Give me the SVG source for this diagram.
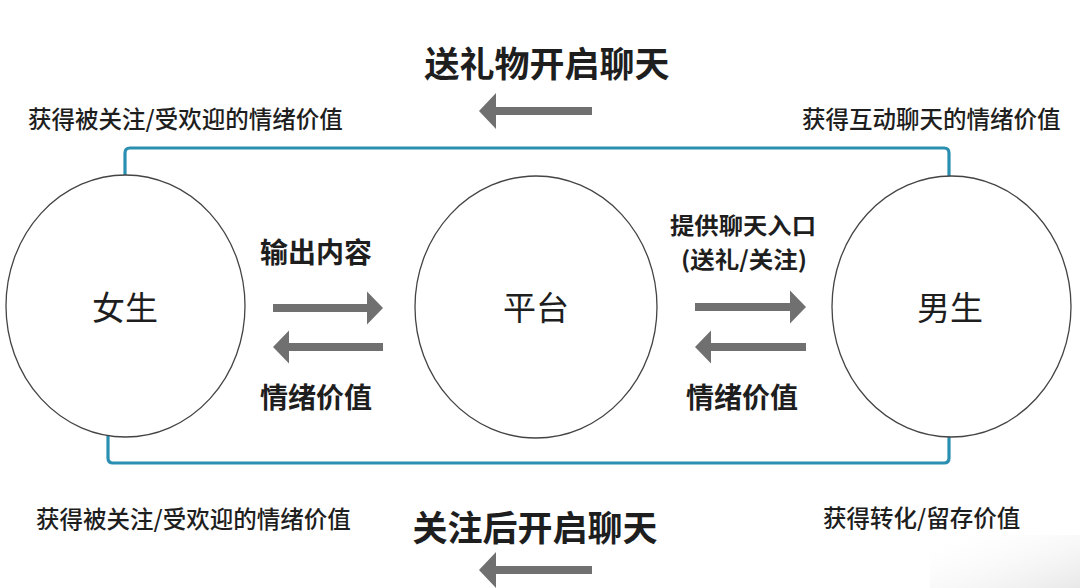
<svg xmlns="http://www.w3.org/2000/svg" width="1080" height="588" viewBox="0 0 1080 588">
  <defs>
    <style>
      .t { font-family: "Noto Sans CJK SC", "Noto Sans", sans-serif; fill: #1e1e1e; }
      .b { font-weight: 700; }
      .m { font-weight: 500; }
      .node { fill: #ffffff; stroke: #444444; stroke-width: 1.3; }
      .link { fill: none; stroke: #2b8fb2; stroke-width: 3.2; }
      .arr { fill: #707070; }
    </style>
    <linearGradient id="shade" x1="0" y1="0" x2="1" y2="1">
      <stop offset="0" stop-color="#ffffff" stop-opacity="0"/>
      <stop offset="1" stop-color="#e8e8e8" stop-opacity="1"/>
    </linearGradient>
  </defs>
  <rect width="1080" height="588" fill="#ffffff"/>
  <rect x="930" y="535" width="150" height="53" fill="url(#shade)"/>

  <g id="connectors">
    <path class="link" d="M125,176 V153 Q125,148 130,148 H944 Q949,148 949,153 V176"/>
    <path class="link" d="M108,436 V458 Q108,463 113,463 H944 Q949,463 949,458 V436"/>
    <polygon class="arr" points="273,304 367,304 367,291.5 383,308 367,324.5 367,312 273,312"/>
    <polygon class="arr" points="383,343 289,343 289,330.5 273,347 289,363.5 289,351 383,351"/>
    <polygon class="arr" points="695,303 790,303 790,290.5 806,307 790,323.5 790,311 695,311"/>
    <polygon class="arr" points="806,343 711,343 711,330.5 695,347 711,363.5 711,351 806,351"/>
    <polygon class="arr" points="592,107 496,107 496,93 479,111 496,129 496,115 592,115"/>
    <polygon class="arr" points="592,566 496,566 496,552 479,570 496,588 496,574 592,574"/>
  </g>

  <g id="node-female">
    <ellipse class="node" cx="125.5" cy="306" rx="119.5" ry="131"/>
    <text class="t" x="125" y="320" font-size="33" text-anchor="middle">女生</text>
  </g>
  <g id="node-platform">
    <ellipse class="node" cx="536" cy="307" rx="121" ry="131"/>
    <text class="t" x="536" y="320" font-size="33" text-anchor="middle">平台</text>
  </g>
  <g id="node-male">
    <ellipse class="node" cx="951.5" cy="306.5" rx="119.5" ry="130.5"/>
    <text class="t" x="950" y="320" font-size="33" text-anchor="middle">男生</text>
  </g>

  <g id="labels">
    <text class="t b" x="547" y="77" font-size="35" text-anchor="middle">送礼物开启聊天</text>
    <text class="t m" x="28" y="128" font-size="23.5">获得被关注/受欢迎的情绪价值</text>
    <text class="t m" x="802" y="128" font-size="23.5">获得互动聊天的情绪价值</text>
    <text class="t b" x="316" y="263" font-size="28" text-anchor="middle">输出内容</text>
    <text class="t b" x="316" y="408" font-size="28" text-anchor="middle">情绪价值</text>
    <text class="t b" x="743" y="234" font-size="23" text-anchor="middle" textLength="146" lengthAdjust="spacingAndGlyphs">提供聊天入口</text>
    <text class="t b" x="744" y="268" font-size="23" text-anchor="middle" textLength="126" lengthAdjust="spacingAndGlyphs">(送礼/关注)</text>
    <text class="t b" x="742" y="408" font-size="28" text-anchor="middle">情绪价值</text>
    <text class="t m" x="36" y="528" font-size="23.5">获得被关注/受欢迎的情绪价值</text>
    <text class="t b" x="535" y="541" font-size="35" text-anchor="middle">关注后开启聊天</text>
    <text class="t m" x="823" y="527" font-size="23.5">获得转化/留存价值</text>
  </g>
</svg>
